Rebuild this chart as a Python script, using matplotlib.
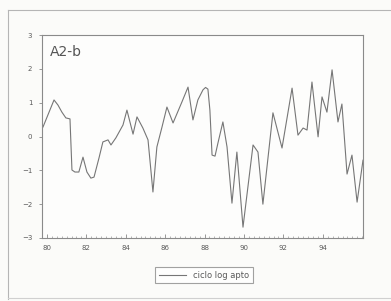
import matplotlib
matplotlib.use("Agg")
import matplotlib.pyplot as plt
from matplotlib.lines import Line2D
from matplotlib.ticker import MultipleLocator

# series (decimal year, log cycle)
years = [79.80, 80.36, 80.56, 80.76, 80.96, 81.17, 81.27, 81.42, 81.62, 81.83,
         82.03, 82.23, 82.39, 82.64, 82.84, 83.10, 83.25, 83.50, 83.86, 84.06,
         84.37, 84.57, 84.87, 85.13, 85.38, 85.58, 85.84, 86.09, 86.40, 86.85,
         87.16, 87.41, 87.66, 87.92, 88.05, 88.17, 88.27, 88.38, 88.53, 88.68,
         88.93, 89.14, 89.39, 89.64, 89.95, 90.46, 90.71, 90.96, 91.47, 91.93,
         92.44, 92.74, 93.00, 93.20, 93.45, 93.76, 93.96, 94.21, 94.47, 94.77,
         94.97, 95.23, 95.48, 95.74, 96.04]
cycle = [0.28, 1.08, 0.93, 0.72, 0.55, 0.52, -0.99, -1.05, -1.05, -0.61,
         -1.05, -1.23, -1.20, -0.64, -0.16, -0.10, -0.25, -0.04, 0.34, 0.78,
         0.07, 0.58, 0.25, -0.10, -1.64, -0.31, 0.28, 0.87, 0.40, 1.02,
         1.46, 0.49, 1.08, 1.38, 1.45, 1.40, 0.78, -0.55, -0.58, -0.19,
         0.43, -0.31, -1.97, -0.46, -2.68, -0.25, -0.46, -2.00, 0.70, -0.34,
         1.43, 0.04, 0.25, 0.19, 1.61, -0.01, 1.17, 0.72, 1.97, 0.43,
         0.96, -1.11, -0.55, -1.94, -0.70]

xticks = [80, 82, 84, 86, 88, 90, 92, 94]
yticks = [-3, -2, -1, 0, 1, 2, 3]

grey = "#767676"
txt = "#5a5a5a"

fig = plt.figure(figsize=(3.91, 3.01), dpi=100, facecolor="#fbfbf9")
ax = fig.add_axes([42 / 391, 1 - 238 / 301, 321 / 391, 203 / 301])
ax.set_facecolor("#fdfdfc")

line, = ax.plot(years, cycle, color=grey, lw=0.8)

ax.set_xlim(79.75, 96.04)
ax.set_ylim(-3, 3)
ax.set_xticks(xticks)
ax.set_xticklabels([str(t) for t in xticks])
ax.xaxis.set_minor_locator(MultipleLocator(0.25))
ax.set_yticks(yticks)
ax.tick_params(axis="x", which="major", direction="in", length=3, width=0.6,
               colors="#888888", labelcolor=txt, labelsize=5, pad=5)
ax.tick_params(axis="x", which="minor", direction="in", length=1.5, width=0.5,
               colors="#999999")
ax.tick_params(axis="y", direction="out", length=2, width=0.6,
               colors="#888888", labelcolor=txt, labelsize=5, pad=5)
for s in ax.spines.values():
    s.set_color("#8a8a8a")
    s.set_linewidth(0.8)

ax.text(0.025, 0.95, "A2-b", transform=ax.transAxes, fontsize=10,
        color="#555555", va="top", ha="left")

# legend box below the plot
handle = Line2D([], [], color=grey, lw=0.8)
leg = fig.legend([handle], ["ciclo log apto"], loc="center",
                 bbox_to_anchor=(204 / 391, 1 - 275 / 301), fontsize=6,
                 frameon=True, fancybox=False, handlelength=3.2,
                 borderpad=0.45, handletextpad=0.9, labelcolor=txt)
leg.get_frame().set_edgecolor("#8a8a8a")
leg.get_frame().set_linewidth(0.8)

# outer frame of the scanned figure
fig.add_artist(Line2D([8 / 391, 8 / 391], [2 / 301, 1 - 10 / 301],
                      transform=fig.transFigure, color="#b5b5b5", lw=0.8))
fig.add_artist(Line2D([8 / 391, 1.0], [1 - 10 / 301, 1 - 10 / 301],
                      transform=fig.transFigure, color="#b5b5b5", lw=0.8))
fig.add_artist(Line2D([8 / 391, 1.0], [3 / 301, 3 / 301],
                      transform=fig.transFigure, color="#d0d0d0", lw=0.8))

fig.savefig("out.png", dpi=100, facecolor=fig.get_facecolor())
